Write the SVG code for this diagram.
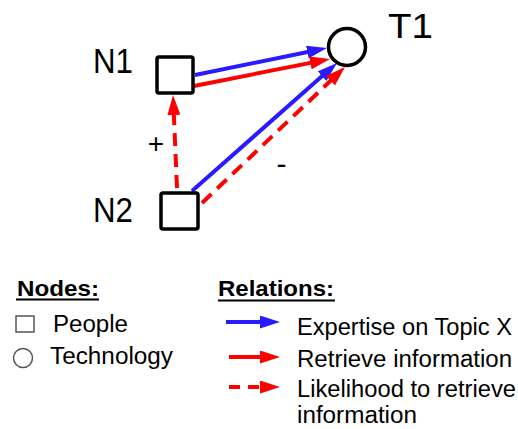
<svg xmlns="http://www.w3.org/2000/svg" width="518" height="429" viewBox="0 0 518 429">
<defs>
<style>
text{font-family:"Liberation Sans",Arial,sans-serif;fill:#000}
.lbl{font-size:35px}
.leg{font-size:23px}
.hd{font-size:22px;font-weight:bold}
.node{fill:#fff;stroke:#000;stroke-width:3.5}
.blue{stroke:#2a1aff;stroke-width:4;fill:none}
.red{stroke:#ff0000;stroke-width:4;fill:none}
.dash{stroke-dasharray:13,8}
.ldash{stroke-dasharray:11,8}
</style>
<marker id="ab" viewBox="0 0 20 13" refX="4" refY="6.5" markerWidth="20" markerHeight="13" markerUnits="userSpaceOnUse" orient="auto"><path d="M0,0 L20,6.5 L0,13 z" fill="#2a1aff"/></marker>
<marker id="ar" viewBox="0 0 20 13" refX="4" refY="6.5" markerWidth="20" markerHeight="13" markerUnits="userSpaceOnUse" orient="auto"><path d="M0,0 L20,6.5 L0,13 z" fill="#ff0000"/></marker>
</defs>
<g id="connectors">
<line class="blue" x1="195" y1="75" x2="311.3" y2="51.2" marker-end="url(#ab)"/>
<line class="red" x1="194" y1="86" x2="314.3" y2="62.1" marker-end="url(#ar)"/>
<line class="blue" x1="192" y1="191" x2="325" y2="73.6" marker-end="url(#ab)"/>
<line class="red dash" x1="202" y1="203" x2="333.4" y2="78" marker-end="url(#ar)"/>
<line class="red dash" x1="177" y1="188" x2="173.7" y2="111" marker-end="url(#ar)"/>
<text x="156" y="153" style="font-size:28px" text-anchor="middle">+</text>
<text x="281.5" y="174" style="font-size:30px" text-anchor="middle">-</text>
</g>
<g id="N1">
<rect class="node" x="157" y="57" width="36" height="36" rx="2"/>
<text class="lbl" x="93" y="73" textLength="40" lengthAdjust="spacingAndGlyphs">N1</text>
</g>
<g id="N2">
<rect class="node" x="161" y="193" width="37" height="36" rx="2"/>
<text class="lbl" x="93" y="222" textLength="40" lengthAdjust="spacingAndGlyphs">N2</text>
</g>
<g id="T1">
<circle class="node" cx="347" cy="47" r="18.5"/>
<text class="lbl" x="388" y="38" textLength="45" lengthAdjust="spacingAndGlyphs">T1</text>
</g>
<g id="legend">
<text class="hd" x="17" y="296" textLength="82" lengthAdjust="spacingAndGlyphs">Nodes:</text>
<line x1="16" y1="299.5" x2="99" y2="299.5" stroke="#000" stroke-width="2"/>
<text class="hd" x="218" y="296" textLength="116" lengthAdjust="spacingAndGlyphs">Relations:</text>
<line x1="218" y1="300.5" x2="335" y2="300.5" stroke="#000" stroke-width="2"/>
<rect x="16" y="316" width="18" height="16" fill="#fff" stroke="#555" stroke-width="1.5"/>
<text class="leg" x="53" y="332" textLength="75" lengthAdjust="spacingAndGlyphs">People</text>
<circle cx="23" cy="358" r="9.5" fill="#fff" stroke="#555" stroke-width="1.5"/>
<text class="leg" x="50" y="364" textLength="123" lengthAdjust="spacingAndGlyphs">Technology</text>
<line class="blue" x1="226" y1="322" x2="264" y2="322" marker-end="url(#ab)"/>
<text class="leg" x="297" y="335" textLength="215" lengthAdjust="spacingAndGlyphs">Expertise on Topic X</text>
<line class="red" x1="229" y1="357" x2="264" y2="357" marker-end="url(#ar)"/>
<text class="leg" x="297" y="367" textLength="215" lengthAdjust="spacingAndGlyphs">Retrieve information</text>
<line class="red ldash" x1="229" y1="387" x2="264" y2="387" marker-end="url(#ar)"/>
<text class="leg" x="297" y="397" textLength="219" lengthAdjust="spacingAndGlyphs">Likelihood to retrieve</text>
<text class="leg" x="297" y="423" textLength="120" lengthAdjust="spacingAndGlyphs">information</text>
</g>
</svg>
